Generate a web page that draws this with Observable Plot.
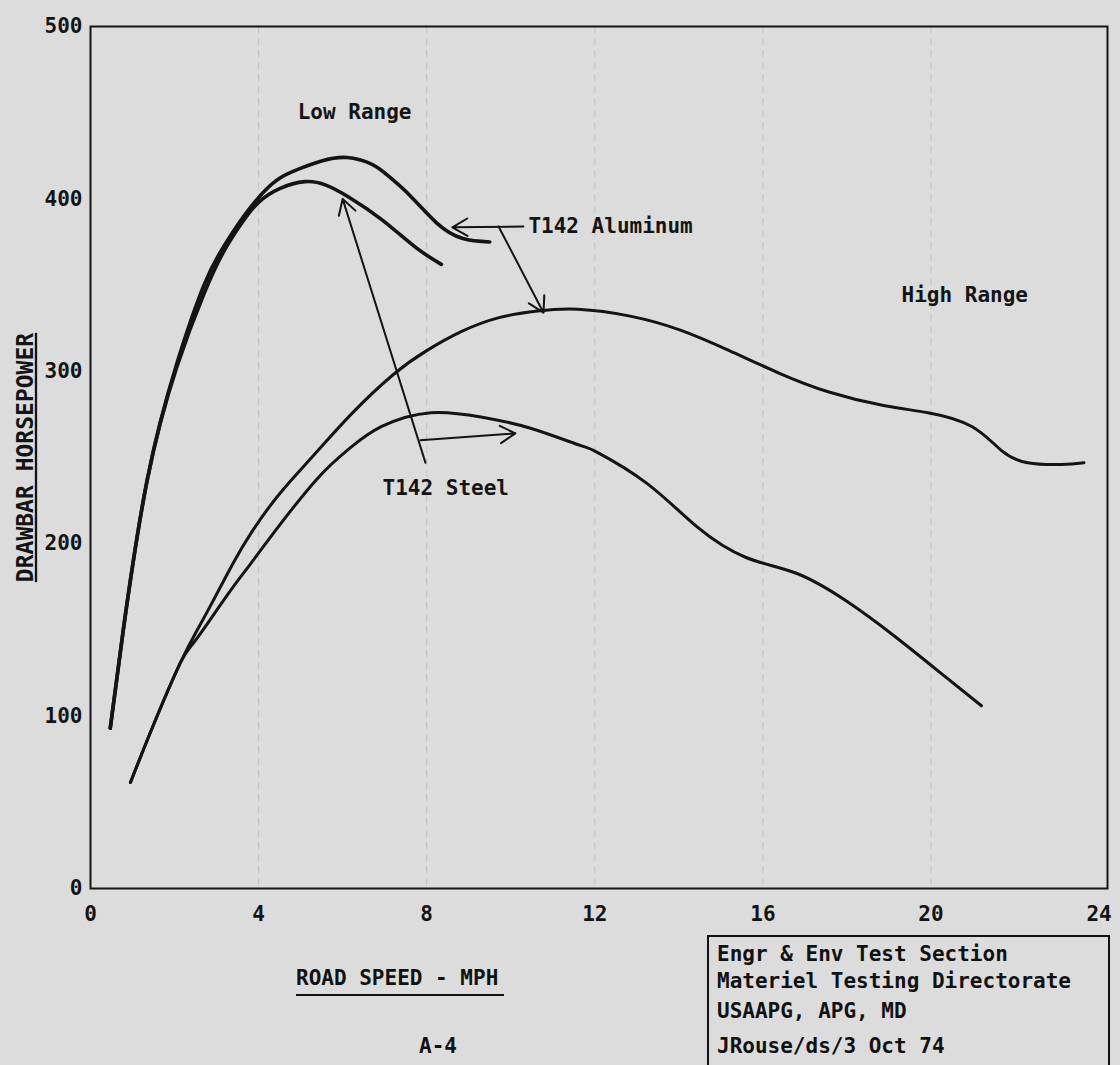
<!DOCTYPE html>
<html>
<head>
<meta charset="utf-8">
<script src="https://cdn.jsdelivr.net/npm/d3@7"></script>
<script src="https://cdn.jsdelivr.net/npm/@observablehq/plot@0.6"></script>
<style>
  html, body { margin: 0; padding: 0; background: #dcdcdc; }
  #wrap { position: relative; width: 1120px; height: 1065px; overflow: hidden;
          font-family: "DejaVu Sans Mono", monospace; font-weight: bold; color: #111; }
  #chart svg { display: block; }
  g[aria-label="y-axis label"] text, g[aria-label="y-axis"] text.label {
    font-size: 23px; text-decoration: underline; text-decoration-thickness: 2px; text-underline-offset: 8px; }
  .t { position: absolute; font-size: 21px; line-height: 24px; white-space: pre; }
  #xlab { left: 296px; top: 966px; padding-bottom: 4px; border-bottom: 2px solid #111; padding-right: 6px; }
  #page { left: 419px; top: 1034px; }
  #box { position: absolute; left: 707px; top: 935px; width: 399px; height: 160px;
         border: 2px solid #111; border-bottom: none; }
  .bl { position: absolute; left: 8px; font-size: 21px; line-height: 24px; white-space: pre; }
</style>
</head>
<body>
<div id="wrap">
  <div id="chart"></div>
  <div class="t" id="xlab">ROAD SPEED - MPH</div>
  <div class="t" id="page">A-4</div>
  <div id="box"></div>
</div>
<script>
// ---- Data ----
const xTicks = [0, 4, 8, 12, 16, 20, 24];
const yTicks = [0, 100, 200, 300, 400, 500];

// Low range, T142 Aluminum
const lowAlX = [0.47, 0.78, 1.35, 2.06, 2.7, 3.16, 3.65, 4.12, 4.5, 4.92, 5.5, 6.1, 6.7, 7.1, 7.6, 8.24, 8.86, 9.5];
const lowAlY = [93, 150, 237, 305, 350, 372, 390, 404, 412, 417, 422, 424, 420, 413, 402, 386, 377, 375];
// Low range, T142 Steel
const lowStX = [0.47, 0.78, 1.35, 2.06, 2.7, 3.16, 3.6, 4.0, 4.5, 5.1, 5.6, 6.15, 6.93, 7.73, 8.35];
const lowStY = [93, 150, 237, 303, 345, 369, 386, 398, 406, 410, 408, 401, 388, 372, 362];
// High range, T142 Aluminum
const highAlX = [0.95, 1.5, 2.14, 2.54, 2.92, 3.4, 3.87, 4.5, 5.3, 6.2, 7.2, 8.0, 8.82, 9.7, 10.64, 11.6, 12.84, 14.02, 15.2, 16.38, 17.57, 18.9, 19.93, 20.97, 21.68, 22.3, 23.1, 23.64];
const highAlY = [61.5, 95, 131, 150, 167, 189, 208, 229, 251, 275, 298, 312, 323, 331, 335, 336, 332, 324, 312, 299, 288, 280, 276, 268, 254, 247, 246, 247];
// High range, T142 Steel
const highStX = [0.95, 1.5, 2.14, 2.5, 3.25, 3.8, 4.35, 5.37, 6.15, 6.93, 8.1, 9.29, 10.47, 11.65, 12.06, 13.24, 14.42, 15.6, 16.78, 17.97, 19.15, 20.33, 21.2];
const highStY = [61.5, 95, 131, 144, 170, 188, 206, 237, 255, 268, 276, 273.5, 267, 257, 253, 235, 210, 192, 183, 167, 146, 123, 106];

// Annotations (data coordinates)
const noteText = ["Low Range", "High Range", "T142 Aluminum", "T142 Steel"];
const noteX = [4.93, 19.3, 10.42, 6.95];
const noteY = [450, 344, 384, 232];

// Leader arrows (data coordinates)
const arrX1 = [10.3, 9.71, 7.97, 7.85];
const arrY1 = [384, 384, 247, 260];
const arrX2 = [8.61, 10.78, 6.0, 10.11];
const arrY2 = [383.5, 334, 400, 264];

// Footer box lines
const boxLines = ["Engr & Env Test Section", "Materiel Testing Directorate", "USAAPG, APG, MD", "JRouse/ds/3 Oct 74"];

// ---- Build tables ----
const toRows = (xs, ys, series, range) => xs.map((x, i) => ({x, y: ys[i], series, range}));
const lowRows = [...toRows(lowAlX, lowAlY, "Aluminum", "low"), ...toRows(lowStX, lowStY, "Steel", "low")];
const highRows = [...toRows(highAlX, highAlY, "Aluminum", "high"), ...toRows(highStX, highStY, "Steel", "high")];
const notes = noteText.map((text, i) => ({text, x: noteX[i], y: noteY[i]}));
const arrows = arrX1.map((x1, i) => ({x1, y1: arrY1[i], x2: arrX2[i], y2: arrY2[i]}));

const ink = "#141414";

const chart = Plot.plot({
  width: 1120,
  height: 930,
  marginLeft: 90,
  marginRight: 13,
  marginTop: 26,
  marginBottom: 42,
  style: {background: "transparent", fontFamily: "'DejaVu Sans Mono', monospace", fontWeight: "bold", fontSize: "21px", color: ink},
  x: {domain: [0, 24.2]},
  y: {domain: [0, 500]},
  marks: [
    Plot.ruleX(xTicks.slice(1, -1), {stroke: "#a8a8a8", strokeWidth: 1, strokeDasharray: "7,5", strokeOpacity: 0.5}),
    Plot.frame({stroke: ink, strokeWidth: 2}),
    Plot.axisX({ticks: xTicks, tickSize: 0, tickPadding: 18, label: null, fontSize: 21}),
    Plot.axisY({ticks: yTicks, tickSize: 0, tickPadding: 8, fontSize: 21,
      label: "DRAWBAR HORSEPOWER", labelAnchor: "center", labelOffset: 74, labelArrow: "none"}),
    Plot.line(lowRows, {x: "x", y: "y", z: "series", curve: "natural", stroke: ink, strokeWidth: 3.6}),
    Plot.line(highRows, {x: "x", y: "y", z: "series", curve: "natural", stroke: ink, strokeWidth: 3}),
    Plot.arrow(arrows, {x1: "x1", y1: "y1", x2: "x2", y2: "y2", stroke: ink, strokeWidth: 2, headLength: 13}),
    Plot.text(notes, {x: "x", y: "y", text: "text", textAnchor: "start", fontSize: 21, fontWeight: "bold", fill: ink})
  ]
});
document.getElementById("chart").append(chart);

// footer box text
const box = document.getElementById("box");
const lineTops = [5, 32, 62, 97];
boxLines.forEach((s, i) => {
  const d = document.createElement("div");
  d.className = "bl";
  d.style.top = lineTops[i] + "px";
  d.textContent = s;
  box.append(d);
});
</script>
</body>
</html>
